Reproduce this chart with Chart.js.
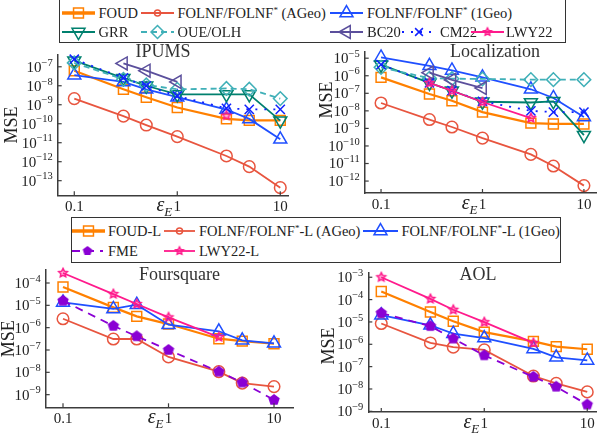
<!DOCTYPE html>
<html>
<head>
<meta charset="utf-8">
<script src="https://cdn.jsdelivr.net/npm/chart.js@4.4.1/dist/chart.umd.min.js"></script>
<style>
  html, body { margin: 0; padding: 0; background: #fff; }
  #wrap { position: relative; width: 605px; height: 440px; overflow: hidden;
          font-family: "Liberation Serif", "Times New Roman", serif; color: #222; }
  #wrap canvas.panel { position: absolute; left: 0; top: 0; }
  .lbox { position: absolute; border: 1px solid #333; box-sizing: border-box; background: #fff; }
  .ltext { position: absolute; font-size: 14.5px; line-height: 20px; white-space: nowrap; }
  .ltext sup { font-size: 9px; vertical-align: 5px; line-height: 0; }
</style>
</head>
<body>
<div id="wrap">
  <canvas class="panel" id="c0" width="605" height="440"></canvas>
  <canvas class="panel" id="c1" width="605" height="440"></canvas>
  <canvas class="panel" id="c2" width="605" height="440"></canvas>
  <canvas class="panel" id="c3" width="605" height="440"></canvas>
</div>
<script>
// x values (privacy budget) shared by every panel
const epsilons = [0.1, 0.3, 0.5, 1, 3, 5, 10];
const xTickValues = [0.1, 1, 10];

// IPUMS
const ipumsFOUD  = [6.2e-8, 6.6e-9, 2.5e-9, 7.2e-10, 1.8e-10, 1.5e-10, 1.5e-10];
const ipumsAGeo  = [2.1e-9, 2.5e-10, 8.5e-11, 2.1e-11, 2.0e-12, 5.5e-13, 4.3e-14];
const ipums1Geo  = [3.6e-8, 1.6e-8, 6.5e-9, 2.5e-9, 5.6e-10, 1.8e-10, 1.5e-11];
const ipumsGRR   = [2.1e-7, 2.5e-8, 1.0e-8, 3.5e-9, 3.5e-9, 3.5e-9, 1.45e-10];
const ipumsOUE   = [1.6e-7, 2.2e-8, 1.1e-8, 6.5e-9, 7.2e-9, 6.6e-9, 2.1e-9];
const ipumsBC20  = [null, 1.5e-7, 6.2e-8, 1.6e-8, null, null, null];
const ipumsCM22  = [2.5e-7, 2.6e-8, 1.0e-8, 2.9e-9, 6.5e-10, 5.7e-10, 5.7e-10];
const ipumsLWY22 = [null, null, null, null, 2.7e-10, null, null];

// Localization
const locFOUD  = [8.1e-7, 9.1e-8, 3.8e-8, 8.5e-9, 2.0e-9, 1.8e-9, 1.8e-9];
const locAGeo  = [2.8e-8, 3.2e-9, 1.2e-9, 2.8e-10, 3.3e-11, 7.2e-12, 5.5e-13];
const loc1Geo  = [1.1e-5, 3.7e-6, 2.0e-6, 8.1e-7, 1.7e-7, 5.4e-8, 4.5e-9];
const locGRR   = [4.3e-6, 3.9e-7, 1.4e-7, 3.3e-8, 3.0e-8, 3.5e-8, 4.1e-10];
const locOUE   = [3.0e-6, 7.2e-7, 6.8e-7, 6.6e-7, 6.0e-7, 6.0e-7, 6.0e-7];
const locBC20  = [null, 1.5e-6, 5.8e-7, 2.0e-7, null, null, null];
const locCM22  = [4.3e-6, 3.9e-7, 1.4e-7, 3.5e-8, 1.0e-8, 8.5e-9, 8.5e-9];
const locLWY22 = [null, 3.9e-7, 1.4e-7, 3.2e-8, 3.9e-9, null, null];

// Foursquare
const fsqFOUD  = [6.6e-5, 8.1e-6, 3.2e-6, 1.45e-6, 3.2e-7, 2.5e-7, 1.9e-7];
const fsqAGeo  = [2.5e-6, 3.1e-7, 3.1e-7, 4.9e-8, 1.07e-8, 3.3e-9, 2.3e-9];
const fsq1Geo  = [1.35e-5, 6.9e-6, 1.07e-5, 1.35e-6, 6.9e-7, 2.7e-7, 2.0e-7];
const fsqFME   = [1.6e-5, 1.2e-6, 4.1e-7, 1.0e-7, 1.07e-8, 3.5e-9, 5.8e-10];
const fsqLWY22 = [2.8e-4, 3.2e-5, 1.15e-5, 2.9e-6, 3.8e-7, null, null];

// AOL
const aolFOUD  = [2.3e-4, 2.8e-5, 1.07e-5, 3.5e-6, 1.35e-6, 7.9e-7, 6.0e-7];
const aolAGeo  = [8.5e-6, 1.15e-6, 7.4e-7, 5.6e-7, 3.8e-8, 1.8e-8, 7.4e-9];
const aol1Geo  = [2.0e-5, 7.1e-6, 3.0e-6, 1.9e-6, 6.2e-7, 2.6e-7, 1.9e-7];
const aolFME   = [2.5e-5, 6.5e-6, 1.8e-6, 3.2e-7, 3.5e-8, 1.26e-8, 2.0e-9];
const aolLWY22 = [1.0e-3, 1.07e-4, 3.5e-5, 9.8e-6, 1.15e-6, null, null];

const SERIF = '"Liberation Serif", "Times New Roman", serif';
const AXIS_COLOR = '#3c3c3c';
const TEXT_COLOR = '#222';

// custom marker shapes (Chart.js has no 5-point star or pentagon)
function makeStar(R, color) {
  const s = Math.ceil(R * 2 + 4);
  const c = document.createElement('canvas');
  c.width = c.height = s;
  const g = c.getContext('2d');
  g.beginPath();
  for (let i = 0; i < 10; i++) {
    const r = i % 2 ? R * 0.5 : R;
    const a = -Math.PI / 2 + i * Math.PI / 5;
    g.lineTo(s / 2 + r * Math.cos(a), s / 2 + r * Math.sin(a));
  }
  g.closePath();
  g.fillStyle = 'rgba(255,26,140,0.35)';
  g.fill();
  g.strokeStyle = color;
  g.lineWidth = 1.5;
  g.stroke();
  return c;
}

function makePentagon(R, color) {
  const s = Math.ceil(R * 2 + 2);
  const c = document.createElement('canvas');
  c.width = c.height = s;
  const g = c.getContext('2d');
  g.beginPath();
  for (let i = 0; i < 5; i++) {
    const a = -Math.PI / 2 + i * 2 * Math.PI / 5;
    g.lineTo(s / 2 + R * Math.cos(a), s / 2 + R * Math.sin(a));
  }
  g.closePath();
  g.fillStyle = color;
  g.fill();
  return c;
}

const styles = {
  foud: { color: '#ff8000', style: 'rect', r: 7, w: 2.2, lw: 3.5, lr: 7 },
  ageo: { color: '#e8553f', style: 'circle', r: 5.8, lr: 3 },
  geo1: { color: '#1f4fff', style: 'triangle', r: 7.5, lr: 7.5 },
  grr:  { color: '#00806e', style: 'triangle', rot: 180, r: 7.5, lr: 7.5 },
  oue:  { color: '#40b0b8', style: 'rectRot', r: 6.8, dash: [6, 4], lr: 6.5 },
  bc20: { color: '#5b4f9c', style: 'triangle', rot: 270, r: 7.5, lr: 7.5 },
  cm22: { color: '#1020ff', style: 'crossRot', r: 6.5, dash: [2, 7], lr: 5.5 },
  lwy:  { color: '#ff1a8c', style: makeStar(4.6, '#ff1a8c'), lstyle: makeStar(4, '#ff1a8c') },
  fme:  { color: '#8a00d4', style: makePentagon(6, '#8a00d4'), lstyle: makePentagon(5, '#8a00d4'), dash: [8, 6] }
};

function ds(label, values, s) {
  return {
    label,
    data: epsilons.map((x, i) => ({ x, y: values[i] })),
    borderColor: s.color,
    backgroundColor: 'rgba(0,0,0,0)',
    borderWidth: s.w || 1.8,
    borderDash: s.dash || [],
    pointStyle: s.style,
    rotation: s.rot || 0,
    pointRadius: s.r || 6,
    pointHoverRadius: s.r || 6,
    pointBorderColor: s.color,
    pointBackgroundColor: 'rgba(0,0,0,0)',
    pointBorderWidth: 1.5,
    tension: 0,
    spanGaps: false,
    clip: false
  };
}

const panels = [
  { id: 'c0', title: 'IPUMS', area: [57.7, 55, 288, 195.3], xr: [-1.161, 1.075], yr: [-13.77, -6.38],
    titleAt: [163, 52], mseAt: [12, 125],
    series: [
      ds('LWY22', ipumsLWY22, styles.lwy), ds('CM22', ipumsCM22, styles.cm22),
      ds('BC20', ipumsBC20, styles.bc20), ds('OUE/OLH', ipumsOUE, styles.oue),
      ds('GRR', ipumsGRR, styles.grr), ds('FOLNF (1Geo)', ipums1Geo, styles.geo1),
      ds('FOLNF (AGeo)', ipumsAGeo, styles.ageo), ds('FOUD', ipumsFOUD, styles.foud)
    ] },
  { id: 'c1', title: 'Localization', area: [364.7, 52, 600, 193], xr: [-1.161, 1.119], yr: [-12.68, -4.647],
    titleAt: [495, 52.7], mseAt: [327, 100],
    series: [
      ds('LWY22', locLWY22, styles.lwy), ds('CM22', locCM22, styles.cm22),
      ds('BC20', locBC20, styles.bc20), ds('OUE/OLH', locOUE, styles.oue),
      ds('GRR', locGRR, styles.grr), ds('FOLNF (1Geo)', loc1Geo, styles.geo1),
      ds('FOLNF (AGeo)', locAGeo, styles.ageo), ds('FOUD', locFOUD, styles.foud)
    ] },
  { id: 'c2', title: 'Foursquare', area: [45.7, 270, 293, 407.3], xr: [-1.164, 1.18], yr: [-9.566, -3.418],
    titleAt: [179.5, 275.5], mseAt: [9, 338.7],
    series: [
      ds('FME', fsqFME, styles.fme), ds('LWY22-L', fsqLWY22, styles.lwy),
      ds('FOLNF-L (1Geo)', fsq1Geo, styles.geo1), ds('FOUD-L', fsqFOUD, styles.foud),
      ds('FOLNF-L (AGeo)', fsqAGeo, styles.ageo)
    ] },
  { id: 'c3', title: 'AOL', area: [368.3, 273, 603, 412], xr: [-1.126, 1.085], yr: [-9.03, -2.81],
    titleAt: [478, 275], mseAt: [329, 346],
    series: [
      ds('FME', aolFME, styles.fme), ds('LWY22-L', aolLWY22, styles.lwy),
      ds('FOLNF-L (1Geo)', aol1Geo, styles.geo1), ds('FOUD-L', aolFOUD, styles.foud),
      ds('FOLNF-L (AGeo)', aolAGeo, styles.ageo)
    ] }
];

// inward ticks, 10^k labels, axis titles and the panel title
const decor = {
  id: 'decor',
  afterDraw(chart, args, o) {
    const ctx = chart.ctx, a = chart.chartArea;
    const xs = chart.scales.x, ys = chart.scales.y;
    ctx.save();
    ctx.strokeStyle = AXIS_COLOR;
    ctx.lineWidth = 1.2;
    ctx.fillStyle = TEXT_COLOR;

    for (let e = Math.ceil(o.yr[0]); e <= Math.floor(o.yr[1]); e++) {
      const py = ys.getPixelForValue(Math.pow(10, e));
      ctx.beginPath(); ctx.moveTo(a.left, py); ctx.lineTo(a.left + 4, py); ctx.stroke();
      const exp = '\u2212' + (-e);
      ctx.font = '10.5px ' + SERIF;
      const we = ctx.measureText(exp).width;
      ctx.font = '15px ' + SERIF;
      const wb = ctx.measureText('10').width;
      const right = a.left - 5;
      ctx.textAlign = 'left';
      ctx.textBaseline = 'middle';
      ctx.fillText('10', right - we - wb, py + 1);
      ctx.font = '10.5px ' + SERIF;
      ctx.fillText(exp, right - we, py - 4);
    }

    ctx.font = '15px ' + SERIF;
    ctx.textAlign = 'center';
    ctx.textBaseline = 'middle';
    xTickValues.forEach(v => {
      const px = xs.getPixelForValue(v);
      ctx.beginPath(); ctx.moveTo(px, a.bottom); ctx.lineTo(px, a.bottom - 4); ctx.stroke();
      ctx.fillText(String(v), px, a.bottom + 12);
    });

    // x title: italic epsilon with subscript E, just left of the "1" label
    const x1 = xs.getPixelForValue(1);
    ctx.textBaseline = 'alphabetic';
    ctx.textAlign = 'left';
    ctx.font = 'italic 13px ' + SERIF;
    const wE = ctx.measureText('E').width;
    ctx.font = 'italic 20px ' + SERIF;
    const wEps = ctx.measureText('\u03b5').width;
    const endX = x1 - 5;
    ctx.fillText('\u03b5', endX - wE - wEps, a.bottom + 15.5);
    ctx.font = 'italic 13px ' + SERIF;
    ctx.fillText('E', endX - wE, a.bottom + 21);

    // y title
    ctx.save();
    ctx.translate(o.mseAt[0], o.mseAt[1]);
    ctx.rotate(-Math.PI / 2);
    ctx.font = '18px ' + SERIF;
    ctx.textAlign = 'center';
    ctx.textBaseline = 'middle';
    ctx.fillText('MSE', 0, 0);
    ctx.restore();

    ctx.font = '18px ' + SERIF;
    ctx.textAlign = 'center';
    ctx.textBaseline = 'middle';
    ctx.fillStyle = '#333';
    ctx.fillText(o.title, o.titleAt[0], o.titleAt[1]);
    ctx.restore();
  }
};

function zeroFit(horizontal) {
  return s => {
    if (horizontal) s.height = 0; else s.width = 0;
    s.paddingLeft = s.paddingRight = s.paddingTop = s.paddingBottom = 0;
  };
}

panels.forEach(p => {
  const [l, t, r, b] = p.area;
  new Chart(document.getElementById(p.id), {
    type: 'line',
    data: { datasets: p.series },
    plugins: [decor],
    options: {
      responsive: false,
      animation: false,
      devicePixelRatio: 1,
      events: [],
      layout: { padding: { left: l, top: t, right: 605 - r, bottom: 440 - b } },
      plugins: {
        legend: { display: false },
        tooltip: { enabled: false },
        decor: { title: p.title, titleAt: p.titleAt, mseAt: p.mseAt, yr: p.yr }
      },
      scales: {
        x: {
          type: 'logarithmic',
          min: Math.pow(10, p.xr[0]), max: Math.pow(10, p.xr[1]),
          grid: { display: false, drawTicks: false },
          border: { display: true, color: AXIS_COLOR, width: 1.5 },
          ticks: { display: false },
          afterFit: zeroFit(true)
        },
        y: {
          type: 'logarithmic',
          min: Math.pow(10, p.yr[0]), max: Math.pow(10, p.yr[1]),
          grid: { display: false, drawTicks: false },
          border: { display: true, color: AXIS_COLOR, width: 1.5 },
          ticks: { display: false },
          afterFit: zeroFit(false)
        }
      }
    }
  });
});

// ---- legends (HTML text, canvas icons) ----
const wrap = document.getElementById('wrap');

function legendBox(l, t, r, b) {
  const d = document.createElement('div');
  d.className = 'lbox';
  d.style.cssText = `left:${l}px;top:${t}px;width:${r - l}px;height:${b - t}px;`;
  wrap.appendChild(d);
}

function legendItem(x1, x2, y, textX, html, s) {
  const w = Math.round(x2 - x1) + 4;
  const c = document.createElement('canvas');
  c.width = w; c.height = 20;
  c.style.cssText = `position:absolute;left:${x1 - 2}px;top:${y - 10}px;`;
  const g = c.getContext('2d');
  g.strokeStyle = s.color;
  g.lineWidth = s.lw || s.w || 1.8;
  g.setLineDash(s.dash || []);
  g.beginPath(); g.moveTo(2, 10); g.lineTo(w - 2, 10); g.stroke();
  g.setLineDash([]);
  g.lineWidth = 1.5;
  g.fillStyle = 'rgba(0,0,0,0)';
  Chart.helpers.drawPoint(g, {
    pointStyle: s.lstyle || s.style, rotation: s.rot || 0, radius: s.lr || s.r || 5, borderWidth: 1.5
  }, w / 2, 10);
  wrap.appendChild(c);
  const t = document.createElement('div');
  t.className = 'ltext';
  t.style.left = textX + 'px';
  t.style.top = (y - 10) + 'px';
  t.innerHTML = html;
  wrap.appendChild(t);
}

const star = '<sup>*</sup>';
legendBox(59, -1, 566, 42.7);
legendItem(62, 95, 12.8, 98.5, 'FOUD', styles.foud);
legendItem(141, 174, 12.8, 177.5, 'FOLNF/FOLNF' + star + ' (AGeo)', styles.ageo);
legendItem(330, 363, 12.8, 367, 'FOLNF/FOLNF' + star + ' (1Geo)', styles.geo1);
legendItem(62, 95, 32.3, 98.5, 'GRR', styles.grr);
legendItem(141, 174, 32.3, 177.5, 'OUE/OLH', styles.oue);
legendItem(330, 363, 32.3, 367, 'BC20', styles.bc20);
legendItem(402, 436, 32.3, 440, 'CM22', styles.cm22);
legendItem(471, 504, 32.3, 506, 'LWY22', styles.lwy);

legendBox(70.5, 216.7, 560.5, 262.7);
legendItem(71.5, 104, 231, 108, 'FOUD-L', styles.foud);
legendItem(164, 195, 231, 199, 'FOLNF/FOLNF' + star + '-L (AGeo)', styles.ageo);
legendItem(363, 398, 231, 401.5, 'FOLNF/FOLNF' + star + '-L (1Geo)', styles.geo1);
legendItem(71.5, 102, 250.5, 108, 'FME', styles.fme);
legendItem(164, 195, 250.5, 199, 'LWY22-L', styles.lwy);
</script>
</body>
</html>
